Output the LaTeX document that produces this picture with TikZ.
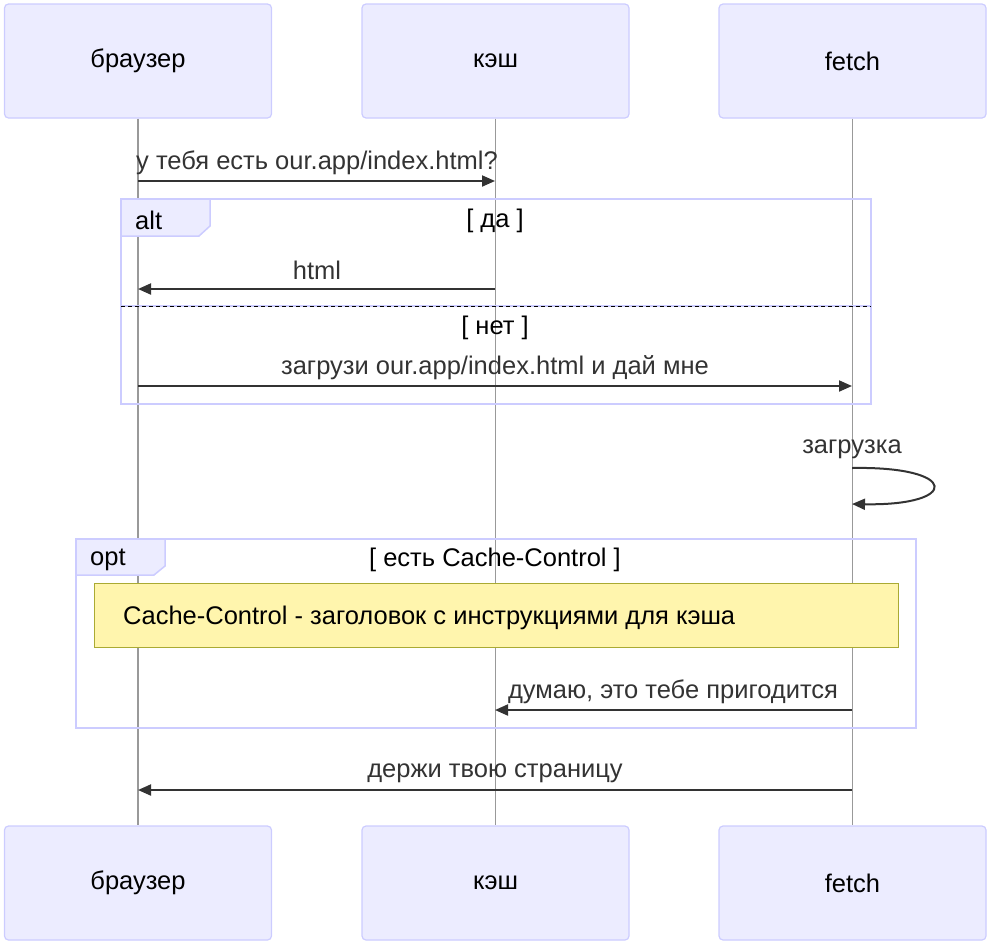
\documentclass[tikz,border=0pt]{standalone}
\usepackage{fontspec}
\setmainfont{Liberation Sans}
\usetikzlibrary{arrows.meta}
\definecolor{actorfill}{HTML}{ECECFF}
\definecolor{actorline}{HTML}{CCCCFF}
\definecolor{lifeline}{HTML}{999999}
\definecolor{msgline}{HTML}{333333}
\definecolor{notefill}{HTML}{FFF5AD}
\definecolor{noteline}{HTML}{AAAA33}
\newcommand{\diafont}{\fontsize{25.5}{30}\selectfont}
\tikzset{
  actor/.style={draw=actorline, fill=actorfill, rounded corners=4pt, line width=1.2pt,
    minimum width=267pt, minimum height=114pt, font=\diafont, text=black},
  life/.style={draw=lifeline, line width=1.2pt},
  msg/.style={draw=msgline, line width=2pt, -{Triangle[length=13pt,width=11pt]}},
  msglabel/.style={font=\diafont, text=msgline, inner sep=0pt},
  frame/.style={draw=actorline, line width=2.5pt},
  framelabel/.style={draw=actorline, fill=actorfill, line width=1.5pt},
  frametext/.style={font=\diafont, text=black, inner sep=0pt},
  note/.style={draw=noteline, fill=notefill, line width=1pt}
}
\begin{document}
\begin{tikzpicture}[x=1pt,y=-1pt]
\useasboundingbox (0,0) rectangle (987,943);

% participants, top and bottom
\node[actor] (b1) at (138,61) {браузер};
\node[actor] (c1) at (495.5,61) {кэш};
\node[actor] (f1) at (852.5,61) {fetch};
\node[actor] (b2) at (138,883) {браузер};
\node[actor] (c2) at (495.5,883) {кэш};
\node[actor] (f2) at (852.5,883) {fetch};

% lifelines
\draw[life] (b1.south) -- (b2.north);
\draw[life] (c1.south) -- (c2.north);
\draw[life] (f1.south) -- (f2.north);

% alt frame
\draw[frame] (121,199) rectangle (871,404);
\path[framelabel] (121,199) -- (210,199) -- (210,226) -- (199,236) -- (121,236) -- cycle;
\node[frametext, anchor=west] (altlbl) at (135,220) {alt};
\node[frametext] (yes) at (495,221) {[ да ]};
\draw[actorline, line width=1.5pt] (121,306) -- (871,306);
\draw[black, line width=0.8pt, dash pattern=on 4pt off 3pt] (121,306) -- (871,306);
\node[frametext] (no) at (495,328) {[ нет ]};

% opt frame
\draw[frame] (76,539) rectangle (916,728);
\path[framelabel] (76,539) -- (165,539) -- (165,566) -- (154,575) -- (76,575) -- cycle;
\node[frametext, anchor=west] (optlbl) at (90,560) {opt};
\node[frametext] (cond) at (495,560) {[ есть Cache-Control ]};

% note
\node[note, minimum width=804pt, minimum height=64pt] (nt) at (496,615) {};
\node[frametext, anchor=west] (nttext) at (123,618) {Cache-Control - заголовок с инструкциями для кэша};

% message end points on the lifelines
\coordinate (m1a) at (138,181);  \coordinate (m1b) at (495,181);
\coordinate (m2a) at (495,289);  \coordinate (m2b) at (138,289);
\coordinate (m3a) at (138,386);  \coordinate (m3b) at (852,386);
\coordinate (m4a) at (852,468);  \coordinate (m4b) at (852,504);
\coordinate (m5a) at (852,710);  \coordinate (m5b) at (495,710);
\coordinate (m6a) at (852,790);  \coordinate (m6b) at (138,790);

% messages
\draw[msg] (m1a) -- (m1b);
\node[msglabel] (l1) at (317,163) {у тебя есть our.app/index.html?};
\draw[msg] (m2a) -- (m2b);
\node[msglabel] (l2) at (317,270) {html};
\draw[msg] (m3a) -- (m3b);
\node[msglabel] (l3) at (495,368) {загрузи our.app/index.html и дай мне};
\draw[msg] (m4a) .. controls (960,466) and (960,506) .. (m4b);
\node[msglabel] (l4) at (852,449) {загрузка};
\draw[msg] (m5a) -- (m5b);
\node[msglabel] (l5) at (673,692) {думаю, это тебе пригодится};
\draw[msg] (m6a) -- (m6b);
\node[msglabel] (l6) at (495,773) {держи твою страницу};
\end{tikzpicture}
\end{document}
